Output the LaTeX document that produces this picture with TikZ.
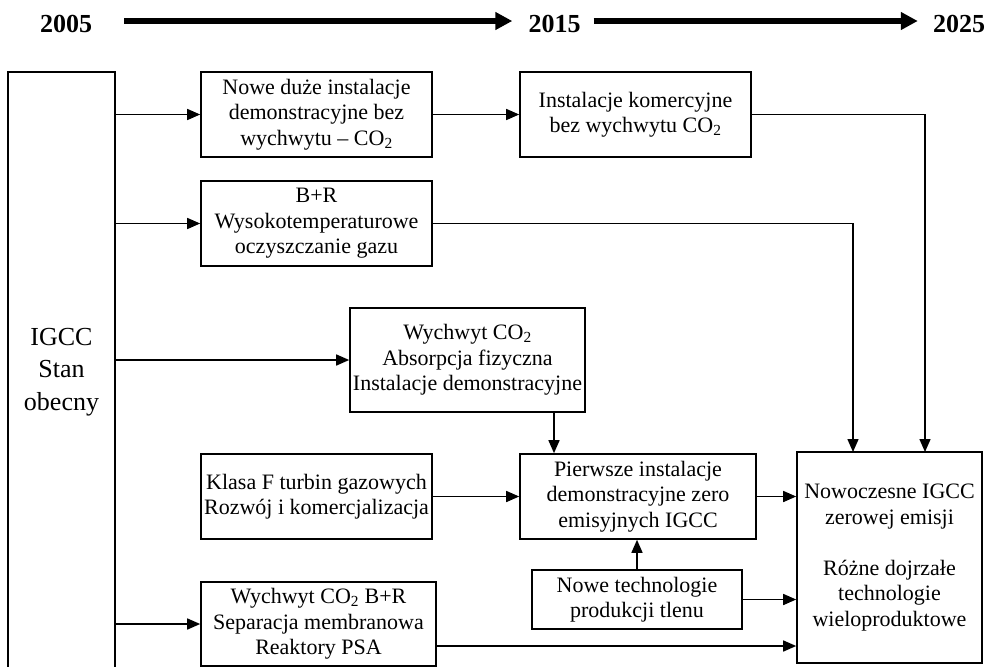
\documentclass[tikz,border=0pt]{standalone}
\usepackage{fontspec}
\setmainfont{Liberation Serif}
\usetikzlibrary{arrows.meta}
\tikzset{
  box/.style={draw, line width=1.6pt, align=center, inner sep=0pt, font=\fontsize{22}{25.5}\selectfont},
  yearlbl/.style={inner sep=0pt, font=\fontsize{26}{30}\selectfont\bfseries},
  arr/.style={line width=1.5pt, -{Triangle[length=13pt,width=11pt]}},
  bigarr/.style={line width=5.5pt, -{Triangle[length=17pt,width=17pt]}},
}
\begin{document}
\begin{tikzpicture}[x=1pt,y=-1pt]
\useasboundingbox (0,0) rectangle (989,667);
\clip (0,0) rectangle (989,667);
% header
\node[yearlbl] (y2005) at (66,23.5) {2005};
\node[yearlbl] (y2015) at (554.5,23.5) {2015};
\node[yearlbl] (y2025) at (959,23.5) {2025};
\draw[bigarr] ([shift={(32,-2.5)}]y2005.east) -- ([shift={(-16,-2.5)}]y2015.west);
\draw[bigarr] ([shift={(13,-2.5)}]y2015.east) -- ([shift={(-15,-2.5)}]y2025.west);
% boxes
\node[box, minimum width=107, minimum height=600, font=\fontsize{26}{32.5}\selectfont] (igcc) at (61.5,372) {IGCC\\Stan\\obecny};
\node[box, minimum width=231, minimum height=85] (b1) at (316.5,114.5) {Nowe duże instalacje\\demonstracyjne bez\\wychwytu – CO\textsubscript{2}};
\node[box, minimum width=231, minimum height=85] (b2) at (316.5,223.5) {B+R\\Wysokotemperaturowe\\oczyszczanie gazu};
\node[box, minimum width=231, minimum height=85] (b3) at (635.5,114.5) {Instalacje komercyjne\\bez wychwytu CO\textsubscript{2}};
\node[box, minimum width=235, minimum height=104] (b4) at (467.5,360) {Wychwyt CO\textsubscript{2}\\Absorpcja fizyczna\\Instalacje demonstracyjne};
\node[box, minimum width=236, minimum height=85] (b5) at (638,496.5) {Pierwsze instalacje\\demonstracyjne zero\\emisyjnych IGCC};
\node[box, minimum width=231, minimum height=85] (kl) at (316.5,496.5) {Klasa F turbin gazowych\\Rozwój i komercjalizacja};
\node[box, minimum width=210, minimum height=59] (b6) at (637,599.5) {Nowe technologie\\produkcji tlenu};
\node[box, minimum width=235, minimum height=84] (b7) at (318.5,624) {Wychwyt CO\textsubscript{2} B+R\\Separacja membranowa\\Reaktory PSA};
\node[box, minimum width=185, minimum height=211] (fin) at (889.5,557.5) {Nowoczesne IGCC\\zerowej emisji\\[25.5pt]Różne dojrzałe\\technologie\\wieloproduktowe};
% helper coordinates
\coordinate (fa) at (853,452);
\coordinate (fb) at (925,452);
\coordinate (vx) at (554,0);
% connectors
\draw[arr] (igcc.east |- b1.west) -- (b1.west);
\draw[arr] (igcc.east |- b2.west) -- (b2.west);
\draw[arr] (igcc.east |- b4.west) -- (b4.west);
\draw[arr] (igcc.east |- b7.west) -- (b7.west);
\draw[arr] (b1.east) -- (b3.west);
\draw[arr] (b3.east) -| (fb);
\draw[arr] (b2.east) -| (fa);
\draw[arr] (b4.south -| vx) -- (b5.north -| vx);
\draw[arr] (kl.east) -- (b5.west);
\draw[arr] (b5.east) -- (b5.east -| fin.west);
\draw[arr] (b6.north) -- (b6.north |- b5.south);
\draw[arr] (b6.east) -- (b6.east -| fin.west);
\draw[arr] ([yshift=-22pt]b7.east) -- ([yshift=-22pt]b7.east -| fin.west);
\end{tikzpicture}
\end{document}
